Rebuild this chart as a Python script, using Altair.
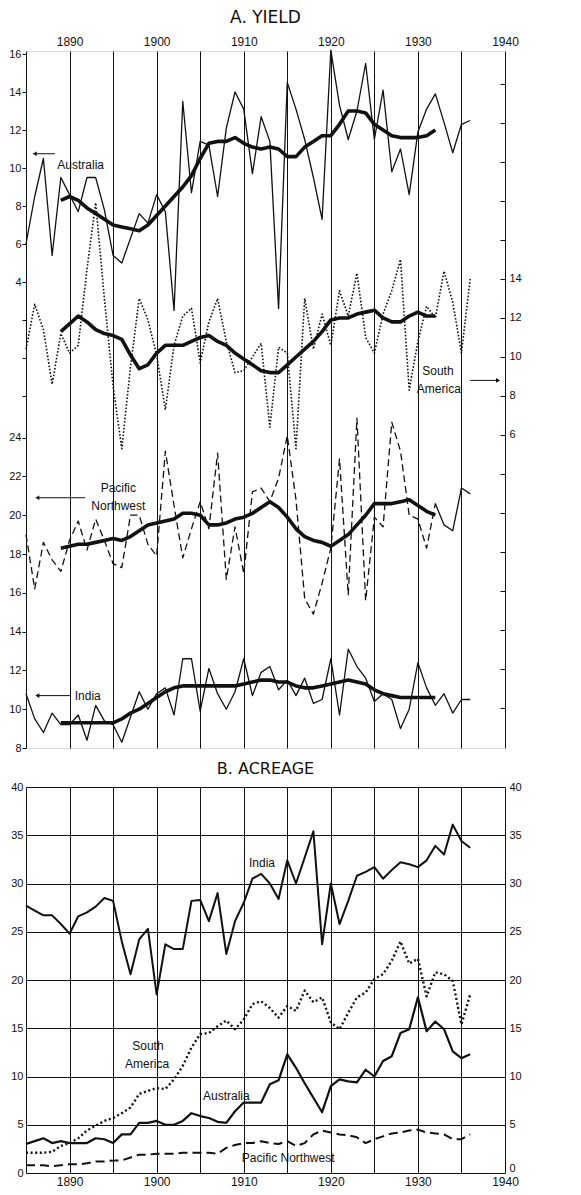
import altair as alt
import pandas as pd

years = list(range(1885, 1937))
ma_years = list(range(1889, 1933))

# ---------- A. YIELD (bushels per acre) ----------
aus_yield = [6.0, 8.5, 10.5, 5.4, 9.5, 8.6, 7.7, 9.5, 9.5, 7.8,
             5.4, 5.0, 6.3, 7.6, 7.1, 8.6, 7.7, 2.5, 13.5, 8.7,
             11.4, 11.2, 8.5, 12.1, 14.0, 13.1, 9.7, 12.7, 11.4, 2.6,
             14.5, 13.1, 11.5, 9.5, 7.3, 16.2, 13.3, 11.5, 13.0, 15.5,
             11.5, 14.1, 9.8, 11.0, 8.6, 11.9, 13.1, 13.9, 12.4, 10.8,
             12.3, 12.5]
aus_yield_ma = [8.3, 8.5, 8.3, 7.9, 7.6, 7.3, 7.0, 6.9, 6.8, 6.7,
                7.0, 7.5, 8.0, 8.5, 9.0, 9.6, 10.5, 11.3, 11.4, 11.4,
                11.6, 11.3, 11.1, 11.0, 11.1, 11.0, 10.6, 10.6, 11.1, 11.4,
                11.7, 11.7, 12.3, 13.0, 13.0, 12.9, 12.3, 12.0, 11.7, 11.6,
                11.6, 11.6, 11.7, 12.0]
sa_yield = [10.4, 12.7, 11.4, 8.6, 11.2, 10.2, 10.6, 14.5, 17.9, 13.0,
            8.5, 5.3, 9.5, 13.0, 11.9, 10.1, 7.3, 10.6, 12.1, 12.5,
            9.7, 11.8, 13.0, 10.8, 9.2, 9.3, 10.0, 10.7, 6.4, 10.5,
            10.2, 5.3, 13.0, 10.4, 12.2, 10.6, 13.4, 12.1, 14.3, 11.0,
            10.2, 12.2, 13.4, 15.0, 8.3, 10.8, 12.6, 12.0, 14.4, 12.8,
            10.2, 14.0]
sa_yield_ma = [11.3, 11.7, 12.1, 11.8, 11.4, 11.2, 11.1, 10.9, 10.1, 9.4,
               9.6, 10.2, 10.6, 10.6, 10.6, 10.8, 11.0, 11.1, 10.8, 10.6,
               10.2, 9.9, 9.6, 9.3, 9.2, 9.2, 9.6, 10.0, 10.4, 10.8,
               11.3, 11.9, 12.0, 12.0, 12.2, 12.3, 12.4, 12.0, 11.8, 11.8,
               12.1, 12.3, 12.1, 12.1]
pnw_yield = [19.0, 16.2, 18.6, 17.7, 17.1, 18.7, 19.7, 18.2, 19.8, 18.7,
             17.5, 17.3, 20.0, 20.0, 18.5, 17.9, 23.3, 20.5, 17.8, 19.3,
             20.7, 19.3, 23.2, 16.7, 19.4, 17.0, 21.2, 21.4, 20.7, 21.9,
             24.1, 20.8, 15.7, 14.9, 16.5, 18.3, 22.9, 15.9, 25.0, 15.6,
             19.9, 19.4, 24.8, 23.3, 20.0, 19.8, 18.3, 20.6, 19.5, 19.2,
             21.4, 21.1]
pnw_yield_ma = [18.3, 18.4, 18.5, 18.5, 18.6, 18.7, 18.8, 18.7, 18.9, 19.2,
                19.5, 19.6, 19.7, 19.8, 20.1, 20.1, 20.0, 19.5, 19.5, 19.6,
                19.8, 19.9, 20.1, 20.4, 20.7, 20.4, 19.9, 19.3, 18.9, 18.7,
                18.6, 18.4, 18.7, 19.0, 19.5, 20.0, 20.6, 20.6, 20.6, 20.7,
                20.8, 20.5, 20.2, 20.0]
india_yield = [10.8, 9.5, 8.8, 9.8, 9.2, 9.2, 9.7, 8.4, 10.2, 9.4,
               9.2, 8.3, 9.6, 10.9, 10.0, 10.8, 11.1, 9.7, 12.6, 12.6,
               9.9, 12.1, 10.8, 10.0, 10.9, 12.6, 10.7, 11.9, 12.2, 11.0,
               11.5, 10.7, 11.6, 10.3, 10.5, 12.6, 9.7, 13.1, 12.2, 11.6,
               10.4, 10.8, 10.5, 9.0, 10.0, 12.4, 11.1, 10.2, 10.8, 9.8,
               10.5, 10.5]
india_yield_ma = [9.3, 9.3, 9.3, 9.3, 9.3, 9.3, 9.3, 9.5, 9.8, 10.0,
                  10.3, 10.6, 10.9, 11.1, 11.2, 11.2, 11.2, 11.2, 11.2, 11.2,
                  11.2, 11.3, 11.4, 11.5, 11.5, 11.4, 11.4, 11.2, 11.1, 11.1,
                  11.2, 11.3, 11.4, 11.5, 11.4, 11.3, 11.0, 10.8, 10.7, 10.6,
                  10.6, 10.6, 10.6, 10.6]

# ---------- B. ACREAGE (million acres) ----------
india_acre = [27.7, 27.2, 26.7, 26.7, 25.8, 24.8, 26.6, 27.0, 27.6, 28.5,
              28.2, 24.0, 20.6, 24.2, 25.3, 18.5, 23.7, 23.2, 23.2, 28.2,
              28.3, 26.1, 29.0, 22.7, 26.1, 28.0, 30.5, 31.0, 30.0, 28.4,
              32.4, 30.0, 32.7, 35.4, 23.7, 30.0, 25.8, 28.2, 30.8, 31.2,
              31.7, 30.5, 31.4, 32.2, 32.0, 31.7, 32.4, 33.9, 33.0, 36.1,
              34.4, 33.7]
sa_acre = [2.1, 2.1, 2.1, 2.2, 2.8, 3.1, 3.6, 4.4, 4.9, 5.4,
           5.7, 6.2, 6.8, 8.2, 8.5, 8.8, 8.7, 9.7, 11.1, 13.0,
           14.4, 14.5, 15.2, 15.8, 14.9, 15.9, 17.5, 17.8, 17.1, 16.1,
           17.3, 16.8, 18.9, 17.7, 18.2, 15.6, 14.9, 16.6, 18.2, 18.7,
           20.1, 20.6, 22.0, 24.0, 21.7, 22.2, 18.3, 20.8, 20.6, 19.9,
           15.4, 18.5]
aus_acre = [3.0, 3.3, 3.6, 3.1, 3.3, 3.1, 3.1, 3.1, 3.6, 3.5,
            3.1, 4.0, 4.0, 5.2, 5.2, 5.4, 5.0, 5.0, 5.4, 6.2,
            5.9, 5.7, 5.3, 5.2, 6.4, 7.3, 7.3, 7.3, 9.2, 9.6,
            12.3, 10.9, 9.3, 7.8, 6.3, 9.0, 9.7, 9.5, 9.4, 10.7,
            10.0, 11.6, 12.1, 14.5, 14.9, 18.2, 14.7, 15.7, 14.9, 12.6,
            11.9, 12.3]
pnw_acre = [0.8, 0.8, 0.8, 0.7, 0.8, 0.9, 0.9, 1.0, 1.2, 1.2,
            1.3, 1.3, 1.6, 1.9, 1.9, 2.0, 2.0, 2.0, 2.1, 2.1,
            2.1, 2.1, 2.0, 2.6, 2.9, 3.1, 3.1, 3.3, 3.1, 3.0,
            3.3, 2.8, 3.1, 4.0, 4.4, 4.2, 4.0, 3.9, 3.7, 3.1,
            3.5, 3.8, 4.1, 4.2, 4.4, 4.5, 4.2, 4.1, 4.0, 3.5,
            3.5, 4.0]

# ---------- annotation labels ----------
aus_label = ["Australia"]
sa_label = ["South", "America"]
pnw_label = ["Pacific", "Northwest"]
india_label = ["India"]
b_labels = ["India", "South", "America", "Australia", "Pacific Northwest"]

FONT = "Liberation Sans"
INK = "#111111"
W, HA, HB = 479, 697, 386
grid_years = list(range(1885, 1941, 5))
DEC = "datum.value % 10 == 0 && datum.value > 1885 ? datum.label : ''"


def df(xs, vs):
    return pd.DataFrame({"year": xs, "v": vs})


def xaxis(orient):
    return alt.Axis(orient=orient, values=grid_years, labelExpr=DEC, format="d",
                    grid=True, gridColor=INK, gridWidth=1, gridOpacity=1,
                    ticks=False, domain=False, labelFont=FONT, labelFontSize=12,
                    labelColor=INK, labelPadding=3, labelFlush=False, title=None)


def X(orient):
    return alt.X("year:Q", scale=alt.Scale(domain=[1885, 1940], nice=False, zero=False),
                 axis=xaxis(orient))


def Y(domain, axis):
    return alt.Y("v:Q", scale=alt.Scale(domain=domain, nice=False, zero=False), axis=axis)


def line(data, x, y, width, dash=None):
    kw = dict(color=INK, strokeWidth=width, strokeJoin="round")
    if dash:
        kw["strokeDash"] = dash
    return alt.Chart(data).mark_line(**kw).encode(x=x, y=y)


def labels(texts, xs, vs, x, y, align="center", size=12):
    d = pd.DataFrame({"t": texts, "year": xs, "v": vs})
    return alt.Chart(d).mark_text(font=FONT, fontSize=size, color=INK, align=align,
                                  baseline="middle").encode(x=x, y=y, text="t:N")


def arrow(tip, tail, v, x, y, shape):
    d = pd.DataFrame({"year": [tip], "year2": [tail], "v": [v]})
    r = alt.Chart(d).mark_rule(color=INK, strokeWidth=1).encode(
        x=x, x2=alt.X2("year2:Q"), y=y)
    h = alt.Chart(d).mark_point(shape=shape, filled=True, size=22, color=INK,
                                opacity=1).encode(x=x, y=y)
    return r + h


# ================= Panel A =================
xA = X("top")
left_common = dict(orient="left", grid=False, domain=False, tickSize=4, tickColor=INK,
                   labelFont=FONT, labelFontSize=11, labelColor=INK, labelPadding=1,
                   labelFlush=False, title=None)
axAus = alt.Axis(values=list(range(-2, 17, 2)),
                 labelExpr="datum.value >= 4 ? datum.label : ''", **left_common)
axPnw = alt.Axis(values=list(range(8, 25, 2)), **left_common)
axSa = alt.Axis(orient="right", values=list(range(-8, 25, 2)),
                labelExpr="datum.value >= 6 && datum.value <= 14 ? datum.label : ''",
                offset=-5, tickSize=5, tickColor=INK, grid=False, domain=False,
                labelFont=FONT, labelFontSize=11, labelColor=INK, labelPadding=4,
                labelFlush=False, title=None)

yAus = Y([-20.526, 16.158], axAus)
ySa = Y([-10.05, 25.69], axSa)
yPnw = Y([8, 43.93], axPnw)

aus_group = alt.layer(
    line(df(years, aus_yield), xA, yAus, 1.3),
    line(df(ma_years, aus_yield_ma), xA, yAus, 3.6),
    labels(aus_label, [1888.6], [10.15], xA, yAus, align="left"),
    arrow(1886.0, 1888.3, 10.75, xA, yAus, "triangle-left"),
)

sa_group = alt.layer(
    line(df(years, sa_yield), xA, ySa, 1.6, [1.6, 1.8]),
    line(df(ma_years, sa_yield_ma), xA, ySa, 3.6),
    labels(sa_label, [1932.3, 1932.4], [9.3, 8.35], xA, ySa),
    arrow(1939.2, 1936.0, 8.8, xA, ySa, "triangle-right"),
)

pnw_group = alt.layer(
    line(df(years[:48], pnw_yield[:48]), xA, yPnw, 1.3, [7, 4]),
    line(df(years[47:], pnw_yield[47:]), xA, yPnw, 1.3),
    line(df(ma_years, pnw_yield_ma), xA, yPnw, 3.6),
    line(df(years, india_yield), xA, yPnw, 1.3),
    line(df(ma_years, india_yield_ma), xA, yPnw, 3.6),
    labels(pnw_label, [1895.6, 1895.6], [21.4, 20.45], xA, yPnw),
    arrow(1886.3, 1891.8, 20.9, xA, yPnw, "triangle-left"),
    labels(india_label, [1890.6], [10.7], xA, yPnw, align="left"),
    arrow(1886.3, 1890.1, 10.7, xA, yPnw, "triangle-left"),
)

panelA = alt.layer(aus_group, sa_group, pnw_group).resolve_scale(
    y="independent").properties(
    width=W, height=HA,
    title=alt.Title("A. YIELD", font="DejaVu Sans", fontSize=17, fontWeight="normal",
                    color=INK, anchor="middle", offset=8))

# ================= Panel B =================
xB = X("bottom")
axBl = alt.Axis(orient="left", values=list(range(0, 41, 5)), grid=True, gridColor=INK,
                gridWidth=1, gridOpacity=1, ticks=False, domain=False, labelFont=FONT,
                labelFontSize=11, labelColor=INK, labelPadding=3, labelFlush=False,
                title=None)
axBr = alt.Axis(orient="right", values=list(range(0, 41, 5)), grid=False, ticks=False,
                domain=False, labelFont=FONT, labelFontSize=11, labelColor=INK,
                labelPadding=4, labelFlush=False, title=None,
                labelBaseline=alt.condition("datum.value == 0", alt.value("bottom"),
                                            alt.value("middle")))
yB = Y([0, 40], axBl)
yBr = Y([0, 40], axBr)

b_main = alt.layer(
    line(df(years, india_acre), xB, yB, 2.0),
    line(df(years, sa_acre), xB, yB, 2.4, [2, 2.6]),
    line(df(years, aus_acre), xB, yB, 2.2),
    line(df(years, pnw_acre), xB, yB, 2.0, [9, 5]),
    labels(b_labels, [1912.1, 1899.0, 1898.9, 1908.0, 1915.1],
           [32.1, 13.2, 11.3, 8.0, 1.55], xB, yB),
)
b_right = alt.Chart(df(years, india_acre)).mark_line(opacity=0).encode(x=xB, y=yBr)

panelB = alt.layer(b_main, b_right).resolve_scale(y="independent").properties(
    width=W, height=HB,
    title=alt.Title("B. ACREAGE", font="DejaVu Sans", fontSize=16, fontWeight="normal",
                    color=INK, anchor="middle", offset=4))

chart = alt.vconcat(panelA, panelB, spacing=6).properties(
    padding={"left": 0, "top": 0, "right": 5, "bottom": 2}
).configure_view(stroke=INK, strokeWidth=1.5).configure(background="white")

chart.save("out.html", embed_options={"renderer": "svg", "actions": False})
